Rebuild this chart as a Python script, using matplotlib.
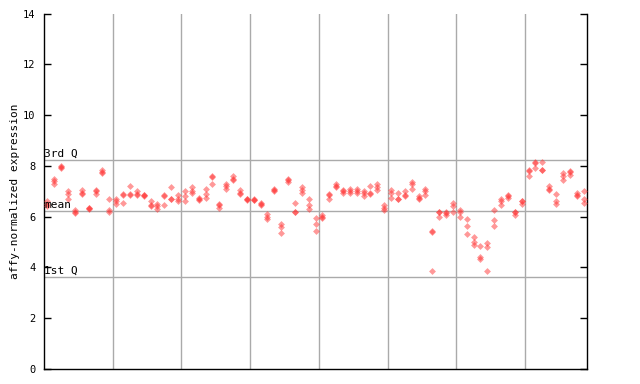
import numpy as np
import matplotlib
matplotlib.use("Agg")
import matplotlib.pyplot as plt

# replicate values per sample (3 per column)
expr = [
    [6.6, 6.4, 6.5], [7.5, 7.3, 7.4], [8.0, 7.95, 7.9], [7.0, 6.9, 6.7], [6.25, 6.15, 6.2],
    [7.05, 6.9, 6.95], [6.35, 6.35, 6.3], [7.0, 6.9, 7.05], [7.75, 7.7, 7.85], [6.7, 6.25, 6.2],
    [6.7, 6.6, 6.5], [6.9, 6.85, 6.55], [7.2, 6.85, 6.9], [7.0, 6.9, 6.85], [6.85, 6.8, 6.85],
    [6.6, 6.45, 6.4], [6.5, 6.4, 6.3], [6.85, 6.8, 6.45], [7.15, 6.7, 6.7], [6.85, 6.7, 6.6],
    [7.0, 6.8, 6.6], [7.15, 6.95, 7.0], [6.75, 6.65, 6.7], [7.1, 6.9, 6.75], [7.6, 7.55, 7.3],
    [6.5, 6.45, 6.35], [7.3, 7.2, 7.1], [7.6, 7.5, 7.45], [7.05, 6.95, 6.9], [6.7, 6.7, 6.65],
    [6.7, 6.65, 6.65], [6.55, 6.5, 6.45], [6.1, 6.0, 5.9], [7.1, 7.0, 7.05], [5.7, 5.6, 5.35],
    [7.5, 7.45, 7.35], [6.55, 6.2, 6.2], [7.15, 7.05, 6.95], [6.7, 6.45, 6.3], [5.95, 5.7, 5.45],
    [6.05, 5.95, 6.0], [6.9, 6.85, 6.7], [7.3, 7.15, 7.2], [7.05, 7.0, 6.95], [7.1, 7.0, 6.95],
    [7.1, 7.0, 6.95], [7.0, 6.95, 6.8], [7.2, 6.9, 6.95], [7.3, 7.15, 7.05], [6.45, 6.35, 6.25],
    [7.05, 6.95, 6.75], [6.95, 6.7, 6.7], [7.0, 6.85, 6.8], [7.35, 7.3, 7.1], [6.8, 6.75, 6.7],
    [7.1, 7.0, 6.85], [5.45, 5.4, 3.85], [6.2, 6.2, 6.0], [6.2, 6.15, 6.05], [6.55, 6.4, 6.2],
    [6.25, 6.2, 6.0], [5.9, 5.65, 5.3], [5.2, 5.0, 4.9], [4.85, 4.4, 4.35], [4.95, 4.8, 3.85],
    [6.25, 5.85, 5.65], [6.7, 6.6, 6.45], [6.85, 6.8, 6.75], [6.2, 6.2, 6.05], [6.6, 6.6, 6.5],
    [7.85, 7.8, 7.6], [8.15, 8.1, 7.9], [8.15, 7.85, 7.85], [7.2, 7.1, 7.05], [6.9, 6.6, 6.5],
    [7.7, 7.6, 7.45], [7.8, 7.75, 7.65], [6.95, 6.85, 6.8], [7.0, 6.7, 6.55],
]
q3 = 8.23
mean_val = 6.23
q1 = 3.63
group_size = 10
yticks = [0, 2, 4, 6, 8, 10, 12, 14]

mono = "DejaVu Sans Mono"

fig = plt.figure(figsize=(6.4, 3.84), dpi=100)
ax = fig.add_axes([44 / 640, 1 - 369 / 384, 543 / 640, 355.5 / 384])

n = len(expr)
for i, vals in enumerate(expr):
    ax.plot([i] * len(vals), vals, linestyle="none", marker="D", markersize=3.5,
            color="#ff3333", alpha=0.5, markeredgewidth=0, zorder=3)

for xb in np.arange(group_size - 0.5, n - 1, group_size):
    ax.axvline(xb, color="#aaaaaa", linewidth=1, zorder=1)
for yv in [q3, mean_val, q1]:
    ax.axhline(yv, color="#aaaaaa", linewidth=1, zorder=1)

for yv, lab in [(q3, "3rd Q"), (mean_val, "mean"), (q1, "1st Q")]:
    ax.text(0.0, yv + 0.04, lab, transform=ax.get_yaxis_transform(),
            ha="left", va="bottom", fontsize=8, family=mono, zorder=4)

ax.set_xlim(-0.5, n - 0.5)
ax.set_ylim(0, 14)
ax.set_xticks([])
ax.set_yticks(yticks)
ax.set_yticklabels([str(t) for t in yticks], family=mono, fontsize=7.5)
ax.tick_params(axis="y", direction="in", length=5, width=1, left=True, right=True, pad=6)
ax.spines["top"].set_visible(False)
for s in ["left", "right", "bottom"]:
    ax.spines[s].set_linewidth(1)
ax.set_ylabel("affy-normalized expression", family=mono, fontsize=8, labelpad=2)

fig.savefig("out.png", dpi=100)
